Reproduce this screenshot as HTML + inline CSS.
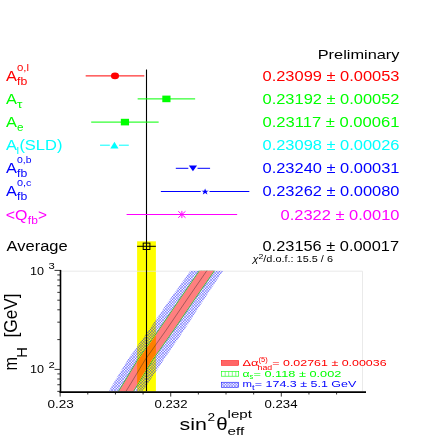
<!DOCTYPE html>
<html><head><meta charset="utf-8"><title>sin2theta</title>
<style>
html,body{margin:0;padding:0;background:#fff;}
.th{stroke:#fff;stroke-width:0.1px;paint-order:fill stroke;}
svg{display:block;will-change:transform;font-family:"Liberation Sans",sans-serif;}
</style></head><body>
<svg width="436" height="436" viewBox="0 0 436 436">
<defs>
<pattern id="bx" width="2.7" height="2.7" patternUnits="userSpaceOnUse">
<path d="M0,0L2.7,2.7M2.7,0L0,2.7" stroke="#0000ff" stroke-width="0.4" fill="none"/>
</pattern>
<pattern id="gx" width="1.6" height="1.6" patternUnits="userSpaceOnUse">
<path d="M0,0.8H1.6M0.8,0V1.6" stroke="#00a000" stroke-width="0.7" fill="none"/>
</pattern>
<clipPath id="plot"><rect x="60" y="270.5" width="306" height="121"/></clipPath>
</defs>
<rect width="436" height="436" fill="#fff"/>
<g>

<rect x="137.1" y="241.3" width="18.8" height="150.2" fill="#ffff00"/>
<path d="M60,271.2H362.5V391" stroke="#e4e4e4" stroke-width="0.8" fill="none"/>
<clipPath id="bluec"><polygon points="190.50,270.4 169.40,300 148.90,330 127.50,360 111.80,386 108.80,391.6 142.30,391.6 146.30,386 163.60,360 184.20,330 203.60,300 223.30,270.4"/></clipPath>
<clipPath id="redc"><polygon points="200.10,270.4 179.70,300 159.30,330 138.10,360 122.40,386 118.90,391.6 132.80,391.6 136.30,386 152.00,360 173.20,330 193.60,300 214.00,270.4"/></clipPath>
<clipPath id="grc"><polygon points="199.00,270.4 178.60,300 158.20,330 137.00,360 121.30,386 117.80,391.6 133.90,391.6 137.40,386 153.10,360 174.30,330 194.70,300 215.10,270.4"/></clipPath>
<g clip-path="url(#plot)"><path clip-path="url(#bluec)" d="M-200.00,270.4l122,122M-200.00,270.4l-122,122M-197.25,270.4l122,122M-197.25,270.4l-122,122M-194.50,270.4l122,122M-194.50,270.4l-122,122M-191.75,270.4l122,122M-191.75,270.4l-122,122M-189.00,270.4l122,122M-189.00,270.4l-122,122M-186.25,270.4l122,122M-186.25,270.4l-122,122M-183.50,270.4l122,122M-183.50,270.4l-122,122M-180.75,270.4l122,122M-180.75,270.4l-122,122M-178.00,270.4l122,122M-178.00,270.4l-122,122M-175.25,270.4l122,122M-175.25,270.4l-122,122M-172.50,270.4l122,122M-172.50,270.4l-122,122M-169.75,270.4l122,122M-169.75,270.4l-122,122M-167.00,270.4l122,122M-167.00,270.4l-122,122M-164.25,270.4l122,122M-164.25,270.4l-122,122M-161.50,270.4l122,122M-161.50,270.4l-122,122M-158.75,270.4l122,122M-158.75,270.4l-122,122M-156.00,270.4l122,122M-156.00,270.4l-122,122M-153.25,270.4l122,122M-153.25,270.4l-122,122M-150.50,270.4l122,122M-150.50,270.4l-122,122M-147.75,270.4l122,122M-147.75,270.4l-122,122M-145.00,270.4l122,122M-145.00,270.4l-122,122M-142.25,270.4l122,122M-142.25,270.4l-122,122M-139.50,270.4l122,122M-139.50,270.4l-122,122M-136.75,270.4l122,122M-136.75,270.4l-122,122M-134.00,270.4l122,122M-134.00,270.4l-122,122M-131.25,270.4l122,122M-131.25,270.4l-122,122M-128.50,270.4l122,122M-128.50,270.4l-122,122M-125.75,270.4l122,122M-125.75,270.4l-122,122M-123.00,270.4l122,122M-123.00,270.4l-122,122M-120.25,270.4l122,122M-120.25,270.4l-122,122M-117.50,270.4l122,122M-117.50,270.4l-122,122M-114.75,270.4l122,122M-114.75,270.4l-122,122M-112.00,270.4l122,122M-112.00,270.4l-122,122M-109.25,270.4l122,122M-109.25,270.4l-122,122M-106.50,270.4l122,122M-106.50,270.4l-122,122M-103.75,270.4l122,122M-103.75,270.4l-122,122M-101.00,270.4l122,122M-101.00,270.4l-122,122M-98.25,270.4l122,122M-98.25,270.4l-122,122M-95.50,270.4l122,122M-95.50,270.4l-122,122M-92.75,270.4l122,122M-92.75,270.4l-122,122M-90.00,270.4l122,122M-90.00,270.4l-122,122M-87.25,270.4l122,122M-87.25,270.4l-122,122M-84.50,270.4l122,122M-84.50,270.4l-122,122M-81.75,270.4l122,122M-81.75,270.4l-122,122M-79.00,270.4l122,122M-79.00,270.4l-122,122M-76.25,270.4l122,122M-76.25,270.4l-122,122M-73.50,270.4l122,122M-73.50,270.4l-122,122M-70.75,270.4l122,122M-70.75,270.4l-122,122M-68.00,270.4l122,122M-68.00,270.4l-122,122M-65.25,270.4l122,122M-65.25,270.4l-122,122M-62.50,270.4l122,122M-62.50,270.4l-122,122M-59.75,270.4l122,122M-59.75,270.4l-122,122M-57.00,270.4l122,122M-57.00,270.4l-122,122M-54.25,270.4l122,122M-54.25,270.4l-122,122M-51.50,270.4l122,122M-51.50,270.4l-122,122M-48.75,270.4l122,122M-48.75,270.4l-122,122M-46.00,270.4l122,122M-46.00,270.4l-122,122M-43.25,270.4l122,122M-43.25,270.4l-122,122M-40.50,270.4l122,122M-40.50,270.4l-122,122M-37.75,270.4l122,122M-37.75,270.4l-122,122M-35.00,270.4l122,122M-35.00,270.4l-122,122M-32.25,270.4l122,122M-32.25,270.4l-122,122M-29.50,270.4l122,122M-29.50,270.4l-122,122M-26.75,270.4l122,122M-26.75,270.4l-122,122M-24.00,270.4l122,122M-24.00,270.4l-122,122M-21.25,270.4l122,122M-21.25,270.4l-122,122M-18.50,270.4l122,122M-18.50,270.4l-122,122M-15.75,270.4l122,122M-15.75,270.4l-122,122M-13.00,270.4l122,122M-13.00,270.4l-122,122M-10.25,270.4l122,122M-10.25,270.4l-122,122M-7.50,270.4l122,122M-7.50,270.4l-122,122M-4.75,270.4l122,122M-4.75,270.4l-122,122M-2.00,270.4l122,122M-2.00,270.4l-122,122M0.75,270.4l122,122M0.75,270.4l-122,122M3.50,270.4l122,122M3.50,270.4l-122,122M6.25,270.4l122,122M6.25,270.4l-122,122M9.00,270.4l122,122M9.00,270.4l-122,122M11.75,270.4l122,122M11.75,270.4l-122,122M14.50,270.4l122,122M14.50,270.4l-122,122M17.25,270.4l122,122M17.25,270.4l-122,122M20.00,270.4l122,122M20.00,270.4l-122,122M22.75,270.4l122,122M22.75,270.4l-122,122M25.50,270.4l122,122M25.50,270.4l-122,122M28.25,270.4l122,122M28.25,270.4l-122,122M31.00,270.4l122,122M31.00,270.4l-122,122M33.75,270.4l122,122M33.75,270.4l-122,122M36.50,270.4l122,122M36.50,270.4l-122,122M39.25,270.4l122,122M39.25,270.4l-122,122M42.00,270.4l122,122M42.00,270.4l-122,122M44.75,270.4l122,122M44.75,270.4l-122,122M47.50,270.4l122,122M47.50,270.4l-122,122M50.25,270.4l122,122M50.25,270.4l-122,122M53.00,270.4l122,122M53.00,270.4l-122,122M55.75,270.4l122,122M55.75,270.4l-122,122M58.50,270.4l122,122M58.50,270.4l-122,122M61.25,270.4l122,122M61.25,270.4l-122,122M64.00,270.4l122,122M64.00,270.4l-122,122M66.75,270.4l122,122M66.75,270.4l-122,122M69.50,270.4l122,122M69.50,270.4l-122,122M72.25,270.4l122,122M72.25,270.4l-122,122M75.00,270.4l122,122M75.00,270.4l-122,122M77.75,270.4l122,122M77.75,270.4l-122,122M80.50,270.4l122,122M80.50,270.4l-122,122M83.25,270.4l122,122M83.25,270.4l-122,122M86.00,270.4l122,122M86.00,270.4l-122,122M88.75,270.4l122,122M88.75,270.4l-122,122M91.50,270.4l122,122M91.50,270.4l-122,122M94.25,270.4l122,122M94.25,270.4l-122,122M97.00,270.4l122,122M97.00,270.4l-122,122M99.75,270.4l122,122M99.75,270.4l-122,122M102.50,270.4l122,122M102.50,270.4l-122,122M105.25,270.4l122,122M105.25,270.4l-122,122M108.00,270.4l122,122M108.00,270.4l-122,122M110.75,270.4l122,122M110.75,270.4l-122,122M113.50,270.4l122,122M113.50,270.4l-122,122M116.25,270.4l122,122M116.25,270.4l-122,122M119.00,270.4l122,122M119.00,270.4l-122,122M121.75,270.4l122,122M121.75,270.4l-122,122M124.50,270.4l122,122M124.50,270.4l-122,122M127.25,270.4l122,122M127.25,270.4l-122,122M130.00,270.4l122,122M130.00,270.4l-122,122M132.75,270.4l122,122M132.75,270.4l-122,122M135.50,270.4l122,122M135.50,270.4l-122,122M138.25,270.4l122,122M138.25,270.4l-122,122M141.00,270.4l122,122M141.00,270.4l-122,122M143.75,270.4l122,122M143.75,270.4l-122,122M146.50,270.4l122,122M146.50,270.4l-122,122M149.25,270.4l122,122M149.25,270.4l-122,122M152.00,270.4l122,122M152.00,270.4l-122,122M154.75,270.4l122,122M154.75,270.4l-122,122M157.50,270.4l122,122M157.50,270.4l-122,122M160.25,270.4l122,122M160.25,270.4l-122,122M163.00,270.4l122,122M163.00,270.4l-122,122M165.75,270.4l122,122M165.75,270.4l-122,122M168.50,270.4l122,122M168.50,270.4l-122,122M171.25,270.4l122,122M171.25,270.4l-122,122M174.00,270.4l122,122M174.00,270.4l-122,122M176.75,270.4l122,122M176.75,270.4l-122,122M179.50,270.4l122,122M179.50,270.4l-122,122M182.25,270.4l122,122M182.25,270.4l-122,122M185.00,270.4l122,122M185.00,270.4l-122,122M187.75,270.4l122,122M187.75,270.4l-122,122M190.50,270.4l122,122M190.50,270.4l-122,122M193.25,270.4l122,122M193.25,270.4l-122,122M196.00,270.4l122,122M196.00,270.4l-122,122M198.75,270.4l122,122M198.75,270.4l-122,122M201.50,270.4l122,122M201.50,270.4l-122,122M204.25,270.4l122,122M204.25,270.4l-122,122M207.00,270.4l122,122M207.00,270.4l-122,122M209.75,270.4l122,122M209.75,270.4l-122,122M212.50,270.4l122,122M212.50,270.4l-122,122M215.25,270.4l122,122M215.25,270.4l-122,122M218.00,270.4l122,122M218.00,270.4l-122,122M220.75,270.4l122,122M220.75,270.4l-122,122M223.50,270.4l122,122M223.50,270.4l-122,122M226.25,270.4l122,122M226.25,270.4l-122,122M229.00,270.4l122,122M229.00,270.4l-122,122M231.75,270.4l122,122M231.75,270.4l-122,122M234.50,270.4l122,122M234.50,270.4l-122,122M237.25,270.4l122,122M237.25,270.4l-122,122M240.00,270.4l122,122M240.00,270.4l-122,122M242.75,270.4l122,122M242.75,270.4l-122,122M245.50,270.4l122,122M245.50,270.4l-122,122M248.25,270.4l122,122M248.25,270.4l-122,122M251.00,270.4l122,122M251.00,270.4l-122,122M253.75,270.4l122,122M253.75,270.4l-122,122M256.50,270.4l122,122M256.50,270.4l-122,122M259.25,270.4l122,122M259.25,270.4l-122,122M262.00,270.4l122,122M262.00,270.4l-122,122M264.75,270.4l122,122M264.75,270.4l-122,122M267.50,270.4l122,122M267.50,270.4l-122,122M270.25,270.4l122,122M270.25,270.4l-122,122M273.00,270.4l122,122M273.00,270.4l-122,122M275.75,270.4l122,122M275.75,270.4l-122,122M278.50,270.4l122,122M278.50,270.4l-122,122M281.25,270.4l122,122M281.25,270.4l-122,122M284.00,270.4l122,122M284.00,270.4l-122,122M286.75,270.4l122,122M286.75,270.4l-122,122M289.50,270.4l122,122M289.50,270.4l-122,122M292.25,270.4l122,122M292.25,270.4l-122,122M295.00,270.4l122,122M295.00,270.4l-122,122M297.75,270.4l122,122M297.75,270.4l-122,122M300.50,270.4l122,122M300.50,270.4l-122,122M303.25,270.4l122,122M303.25,270.4l-122,122M306.00,270.4l122,122M306.00,270.4l-122,122M308.75,270.4l122,122M308.75,270.4l-122,122M311.50,270.4l122,122M311.50,270.4l-122,122M314.25,270.4l122,122M314.25,270.4l-122,122M317.00,270.4l122,122M317.00,270.4l-122,122M319.75,270.4l122,122M319.75,270.4l-122,122M322.50,270.4l122,122M322.50,270.4l-122,122M325.25,270.4l122,122M325.25,270.4l-122,122M328.00,270.4l122,122M328.00,270.4l-122,122M330.75,270.4l122,122M330.75,270.4l-122,122M333.50,270.4l122,122M333.50,270.4l-122,122M336.25,270.4l122,122M336.25,270.4l-122,122M339.00,270.4l122,122M339.00,270.4l-122,122M341.75,270.4l122,122M341.75,270.4l-122,122M344.50,270.4l122,122M344.50,270.4l-122,122M347.25,270.4l122,122M347.25,270.4l-122,122M350.00,270.4l122,122M350.00,270.4l-122,122M352.75,270.4l122,122M352.75,270.4l-122,122M355.50,270.4l122,122M355.50,270.4l-122,122M358.25,270.4l122,122M358.25,270.4l-122,122M361.00,270.4l122,122M361.00,270.4l-122,122M363.75,270.4l122,122M363.75,270.4l-122,122M366.50,270.4l122,122M366.50,270.4l-122,122M369.25,270.4l122,122M369.25,270.4l-122,122M372.00,270.4l122,122M372.00,270.4l-122,122M374.75,270.4l122,122M374.75,270.4l-122,122M377.50,270.4l122,122M377.50,270.4l-122,122M380.25,270.4l122,122M380.25,270.4l-122,122M383.00,270.4l122,122M383.00,270.4l-122,122M385.75,270.4l122,122M385.75,270.4l-122,122M388.50,270.4l122,122M388.50,270.4l-122,122M391.25,270.4l122,122M391.25,270.4l-122,122M394.00,270.4l122,122M394.00,270.4l-122,122M396.75,270.4l122,122M396.75,270.4l-122,122M399.50,270.4l122,122M399.50,270.4l-122,122M402.25,270.4l122,122M402.25,270.4l-122,122M405.00,270.4l122,122M405.00,270.4l-122,122M407.75,270.4l122,122M407.75,270.4l-122,122M410.50,270.4l122,122M410.50,270.4l-122,122M413.25,270.4l122,122M413.25,270.4l-122,122M416.00,270.4l122,122M416.00,270.4l-122,122M418.75,270.4l122,122M418.75,270.4l-122,122M421.50,270.4l122,122M421.50,270.4l-122,122M424.25,270.4l122,122M424.25,270.4l-122,122M427.00,270.4l122,122M427.00,270.4l-122,122M429.75,270.4l122,122M429.75,270.4l-122,122M432.50,270.4l122,122M432.50,270.4l-122,122M435.25,270.4l122,122M435.25,270.4l-122,122M438.00,270.4l122,122M438.00,270.4l-122,122M440.75,270.4l122,122M440.75,270.4l-122,122M443.50,270.4l122,122M443.50,270.4l-122,122M446.25,270.4l122,122M446.25,270.4l-122,122M449.00,270.4l122,122M449.00,270.4l-122,122M451.75,270.4l122,122M451.75,270.4l-122,122M454.50,270.4l122,122M454.50,270.4l-122,122M457.25,270.4l122,122M457.25,270.4l-122,122M460.00,270.4l122,122M460.00,270.4l-122,122M462.75,270.4l122,122M462.75,270.4l-122,122M465.50,270.4l122,122M465.50,270.4l-122,122M468.25,270.4l122,122M468.25,270.4l-122,122M471.00,270.4l122,122M471.00,270.4l-122,122M473.75,270.4l122,122M473.75,270.4l-122,122M476.50,270.4l122,122M476.50,270.4l-122,122M479.25,270.4l122,122M479.25,270.4l-122,122M482.00,270.4l122,122M482.00,270.4l-122,122M484.75,270.4l122,122M484.75,270.4l-122,122M487.50,270.4l122,122M487.50,270.4l-122,122M490.25,270.4l122,122M490.25,270.4l-122,122M493.00,270.4l122,122M493.00,270.4l-122,122M495.75,270.4l122,122M495.75,270.4l-122,122M498.50,270.4l122,122M498.50,270.4l-122,122" stroke="#0000ff" stroke-width="0.4" fill="none"/></g>
<g clip-path="url(#plot)">
<g clip-path="url(#grc)"><rect x="60" y="270" width="306" height="122" fill="#fff"/><rect x="137.1" y="270" width="18.8" height="122" fill="#ffff00"/><rect x="60" y="270" width="306" height="122" fill="#009000" fill-opacity="0.75"/></g>
<g clip-path="url(#redc)"><rect x="60" y="270" width="306" height="122" fill="#fff"/><rect x="137.1" y="270" width="18.8" height="122" fill="#ffff00"/><rect x="60" y="270" width="306" height="122" fill="#ff0000" fill-opacity="0.5"/></g>
<polyline points="207.0,270.4 186.6,300 166.2,330 145.0,360 129.3,386 125.8,391.6" stroke="#222" stroke-width="0.4" fill="none"/>
</g>
<line x1="146.5" y1="69.5" x2="146.5" y2="391" stroke="#000" stroke-width="1.1"/>
<line x1="60.5" y1="269.9" x2="60.5" y2="392.9" stroke="#000" stroke-width="1.6"/>
<line x1="59.7" y1="392.05" x2="366" y2="392.05" stroke="#000" stroke-width="1.8"/>
<path d="M57.3,391.36H60M57.3,384.74H60M57.3,378.99H60M57.3,373.93H60M57.3,339.60H60M57.3,322.16H60M57.3,309.80H60M57.3,300.20H60M57.3,292.36H60M57.3,285.74H60M57.3,279.99H60M57.3,274.93H60M54.5,369.40H60M54.5,270.40H60" stroke="#000" stroke-width="0.8" fill="none"/>
<path d="M60.15,392V396.60M87.79,392V394.50M115.44,392V394.50M143.08,392V394.50M170.73,392V396.60M198.37,392V394.50M226.01,392V394.50M253.66,392V394.50M281.30,392V396.60M308.95,392V394.50M336.59,392V394.50" stroke="#000" stroke-width="0.8" fill="none"/>
<line x1="85.68" y1="75.9" x2="144.29" y2="75.9" stroke="#ff0000" stroke-width="1"/>
<ellipse cx="114.99" cy="75.9" rx="4" ry="3.3" fill="#ff0000"/>
<line x1="137.65" y1="98.9" x2="195.15" y2="98.9" stroke="#00ff00" stroke-width="1"/>
<rect x="162.30" y="95.60" width="8.2" height="6.6" fill="#00ff00"/>
<line x1="91.21" y1="122.1" x2="158.66" y2="122.1" stroke="#00ff00" stroke-width="1"/>
<rect x="120.84" y="118.80" width="8.2" height="6.6" fill="#00ff00"/>
<line x1="100.06" y1="145.2" x2="128.81" y2="145.2" stroke="#00ffff" stroke-width="1"/>
<rect x="109.83" y="143.2" width="9.2" height="4" fill="#fff"/>
<polygon points="114.43,141.79999999999998 118.53,148.39999999999998 110.33,148.39999999999998" fill="#00ffff"/>
<line x1="175.80" y1="168.3" x2="210.08" y2="168.3" stroke="#0000ff" stroke-width="1"/>
<rect x="188.34" y="166.3" width="9.2" height="4" fill="#fff"/>
<polygon points="192.94,171.3 197.04,165.5 188.84,165.5" fill="#0000ff"/>
<line x1="160.87" y1="191.5" x2="249.33" y2="191.5" stroke="#0000ff" stroke-width="1"/>
<rect x="200.70" y="189.5" width="8.8" height="4" fill="#fff"/>
<polygon points="205.10,188.38 206.02,190.63 208.81,190.68 206.58,192.11 207.40,194.38 205.10,193.02 202.81,194.38 203.63,192.11 201.40,190.68 204.19,190.63" fill="#0000ff"/>
<line x1="126.60" y1="214.5" x2="237.17" y2="214.5" stroke="#ff00ff" stroke-width="1"/>
<path d="M178.28,211.3L185.48,217.7M178.28,217.7L185.48,211.3M181.88,210.9V218.1" stroke="#ff00ff" stroke-width="1" fill="none"/>
<line x1="137.1" y1="246.3" x2="155.9" y2="246.3" stroke="#000" stroke-width="1"/>
<rect x="143.2" y="243.1" width="6.7" height="6.4" fill="none" stroke="#000" stroke-width="1"/>
<text x="317.7" y="59.1" font-size="13.4" fill="#000" textLength="81.8" lengthAdjust="spacingAndGlyphs">Preliminary</text>
<text x="262.5" y="80.9" font-size="13.8" fill="#ff0000" textLength="137.0" lengthAdjust="spacingAndGlyphs">0.23099 ± 0.00053</text>
<text x="262.5" y="103.7" font-size="13.8" fill="#00ff00" textLength="137.0" lengthAdjust="spacingAndGlyphs">0.23192 ± 0.00052</text>
<text x="262.5" y="126.9" font-size="13.8" fill="#00ff00" textLength="137.0" lengthAdjust="spacingAndGlyphs">0.23117 ± 0.00061</text>
<text x="262.5" y="150.1" font-size="13.8" fill="#00ffff" textLength="137.0" lengthAdjust="spacingAndGlyphs">0.23098 ± 0.00026</text>
<text x="262.5" y="173.2" font-size="13.8" fill="#0000ff" textLength="137.0" lengthAdjust="spacingAndGlyphs">0.23240 ± 0.00031</text>
<text x="262.5" y="196.2" font-size="13.8" fill="#0000ff" textLength="137.0" lengthAdjust="spacingAndGlyphs">0.23262 ± 0.00080</text>
<text x="280.5" y="219.6" font-size="13.8" fill="#ff00ff" textLength="119.0" lengthAdjust="spacingAndGlyphs">0.2322 ± 0.0010</text>
<text x="262.5" y="251.2" font-size="13.8" fill="#000" textLength="136.5" lengthAdjust="spacingAndGlyphs">0.23156 ± 0.00017</text>
<text x="252.5" y="262" font-size="8.8" fill="#000" textLength="80.5" lengthAdjust="spacingAndGlyphs"><tspan font-style="italic">χ</tspan><tspan font-size="7" dy="-3.4">2</tspan><tspan dy="3.4">/d.o.f.: 15.5 / 6</tspan></text>
<text x="6.0" y="80.9" font-size="13.8" fill="#ff0000" textLength="10.9" lengthAdjust="spacingAndGlyphs">A</text>
<text x="17.0" y="71.3" font-size="9.2" fill="#ff0000" textLength="12" lengthAdjust="spacingAndGlyphs">0,l</text>
<text x="17.0" y="85.2" font-size="10.2" fill="#ff0000" textLength="10.2" lengthAdjust="spacingAndGlyphs">fb</text>
<text x="6.0" y="103.9" font-size="13.8" fill="#00ff00" textLength="10.9" lengthAdjust="spacingAndGlyphs">A</text>
<text x="17.0" y="108.2" font-size="10.2" fill="#00ff00" textLength="5.4" lengthAdjust="spacingAndGlyphs">τ</text>
<text x="6.0" y="126.9" font-size="13.8" fill="#00ff00" textLength="10.9" lengthAdjust="spacingAndGlyphs">A</text>
<text x="17.0" y="131.2" font-size="10.2" fill="#00ff00" textLength="6.5" lengthAdjust="spacingAndGlyphs">e</text>
<text x="6.0" y="150.0" font-size="13.8" fill="#00ffff" textLength="10.9" lengthAdjust="spacingAndGlyphs">A</text>
<text x="16.6" y="153.5" font-size="9.8" fill="#00ffff" textLength="2.6" lengthAdjust="spacingAndGlyphs">l</text>
<text x="19.4" y="150.2" font-size="13.8" fill="#00ffff" textLength="43" lengthAdjust="spacingAndGlyphs">(SLD)</text>
<text x="6.0" y="173.0" font-size="13.8" fill="#0000ff" textLength="10.9" lengthAdjust="spacingAndGlyphs">A</text>
<text x="17.0" y="163.4" font-size="9.2" fill="#0000ff" textLength="14.5" lengthAdjust="spacingAndGlyphs">0,b</text>
<text x="17.0" y="177.3" font-size="10.2" fill="#0000ff" textLength="10.2" lengthAdjust="spacingAndGlyphs">fb</text>
<text x="6.0" y="196.0" font-size="13.8" fill="#0000ff" textLength="10.9" lengthAdjust="spacingAndGlyphs">A</text>
<text x="17.0" y="186.4" font-size="9.2" fill="#0000ff" textLength="14.5" lengthAdjust="spacingAndGlyphs">0,c</text>
<text x="17.0" y="200.3" font-size="10.2" fill="#0000ff" textLength="10.2" lengthAdjust="spacingAndGlyphs">fb</text>
<text x="5.8" y="219.7" font-size="13.8" fill="#ff00ff" textLength="21.7" lengthAdjust="spacingAndGlyphs">&lt;Q</text>
<text x="27.8" y="223.7" font-size="10.2" fill="#ff00ff" textLength="10" lengthAdjust="spacingAndGlyphs">fb</text>
<text x="38" y="219.7" font-size="13.8" fill="#ff00ff" textLength="9" lengthAdjust="spacingAndGlyphs">&gt;</text>
<text x="6.5" y="250.8" font-size="13.8" fill="#000" textLength="61.2" lengthAdjust="spacingAndGlyphs">Average</text>
<text x="30" y="274.5" font-size="10.4" fill="#000" textLength="14" lengthAdjust="spacingAndGlyphs">10</text>
<text x="48.4" y="269.4" font-size="8.2" fill="#000" textLength="6.3" lengthAdjust="spacingAndGlyphs">3</text>
<text x="30" y="373.3" font-size="10.4" fill="#000" textLength="14" lengthAdjust="spacingAndGlyphs">10</text>
<text x="48.4" y="367.9" font-size="8.2" fill="#000" textLength="6.3" lengthAdjust="spacingAndGlyphs">2</text>
<text x="47.5" y="408" font-size="11" fill="#000" textLength="26.3" lengthAdjust="spacingAndGlyphs">0.23</text>
<text x="154.5" y="408" font-size="11" fill="#000" textLength="33" lengthAdjust="spacingAndGlyphs">0.232</text>
<text x="264.5" y="408" font-size="11" fill="#000" textLength="33" lengthAdjust="spacingAndGlyphs">0.234</text>
<text x="179.6" y="429.7" font-size="17.3" fill="#000" textLength="27.4" lengthAdjust="spacingAndGlyphs">sin</text>
<text x="207.5" y="421.4" font-size="11.3" fill="#000" textLength="7.6" lengthAdjust="spacingAndGlyphs">2</text>
<text x="216.2" y="429.8" font-size="17.6" fill="#000" textLength="11.4" lengthAdjust="spacingAndGlyphs">θ</text>
<text x="227.6" y="417.5" font-size="11.2" fill="#000" textLength="24.4" lengthAdjust="spacingAndGlyphs">lept</text>
<text x="227.6" y="434.7" font-size="11" fill="#000" textLength="16.6" lengthAdjust="spacingAndGlyphs">eff</text>
<g transform="translate(16.5,370.2) rotate(-90) scale(1,1.38)">
<text x="-0.4" y="0" font-size="13" textLength="13.6" lengthAdjust="spacingAndGlyphs">m</text>
<text x="12.5" y="7.8" font-size="10.2" textLength="10.6" lengthAdjust="spacingAndGlyphs">H</text>
<text x="32.6" y="0.3" font-size="13.3" textLength="44.2" lengthAdjust="spacingAndGlyphs">[GeV]</text>
</g>
<rect x="221.4" y="360.5" width="17.3" height="4.9" fill="#ff0000" fill-opacity="0.6" stroke="#ff0000" stroke-width="0.5"/>
<rect x="221.4" y="371.6" width="17.3" height="4.6" fill="none" stroke="#00ff00" stroke-width="0.6"/>
<path d="M225.2,371.6v4.6M228.7,371.6v4.6M232.3,371.6v4.6M235.8,371.6v4.6" stroke="#00ff00" stroke-width="0.5" fill="none"/>
<rect x="221.4" y="382.2" width="17.3" height="5.2" fill="url(#bx)" stroke="#0000ff" stroke-width="0.5"/>
<text x="242.5" y="366.3" font-size="9.3" fill="#ff0000" textLength="16" lengthAdjust="spacingAndGlyphs">Δα</text>
<text x="258.6" y="361.7" font-size="6.5" fill="#ff0000" textLength="9.2" lengthAdjust="spacingAndGlyphs">(5)</text>
<text x="257.6" y="370.4" font-size="7.2" fill="#ff0000" textLength="14.6" lengthAdjust="spacingAndGlyphs">had</text>
<text x="272.3" y="366.2" font-size="9.3" fill="#ff0000" textLength="114.3" lengthAdjust="spacingAndGlyphs">= 0.02761 ± 0.00036</text>
<text x="242.5" y="376.8" font-size="9.3" fill="#00ff00" textLength="7" lengthAdjust="spacingAndGlyphs">α</text>
<text x="249.4" y="379.2" font-size="6.8" fill="#00ff00" textLength="3.8" lengthAdjust="spacingAndGlyphs">s</text>
<text x="253.5" y="376.8" font-size="9.3" fill="#00ff00" textLength="87.8" lengthAdjust="spacingAndGlyphs">= 0.118 ± 0.002</text>
<text x="242.5" y="387.3" font-size="9.3" fill="#0000ff" textLength="9.5" lengthAdjust="spacingAndGlyphs">m</text>
<text x="252.0" y="390.0" font-size="6.8" fill="#0000ff" textLength="2.6" lengthAdjust="spacingAndGlyphs">t</text>
<text x="254.8" y="387.3" font-size="9.3" fill="#0000ff" textLength="101.5" lengthAdjust="spacingAndGlyphs">= 174.3 ± 5.1 GeV</text>
</g></svg></body></html>
